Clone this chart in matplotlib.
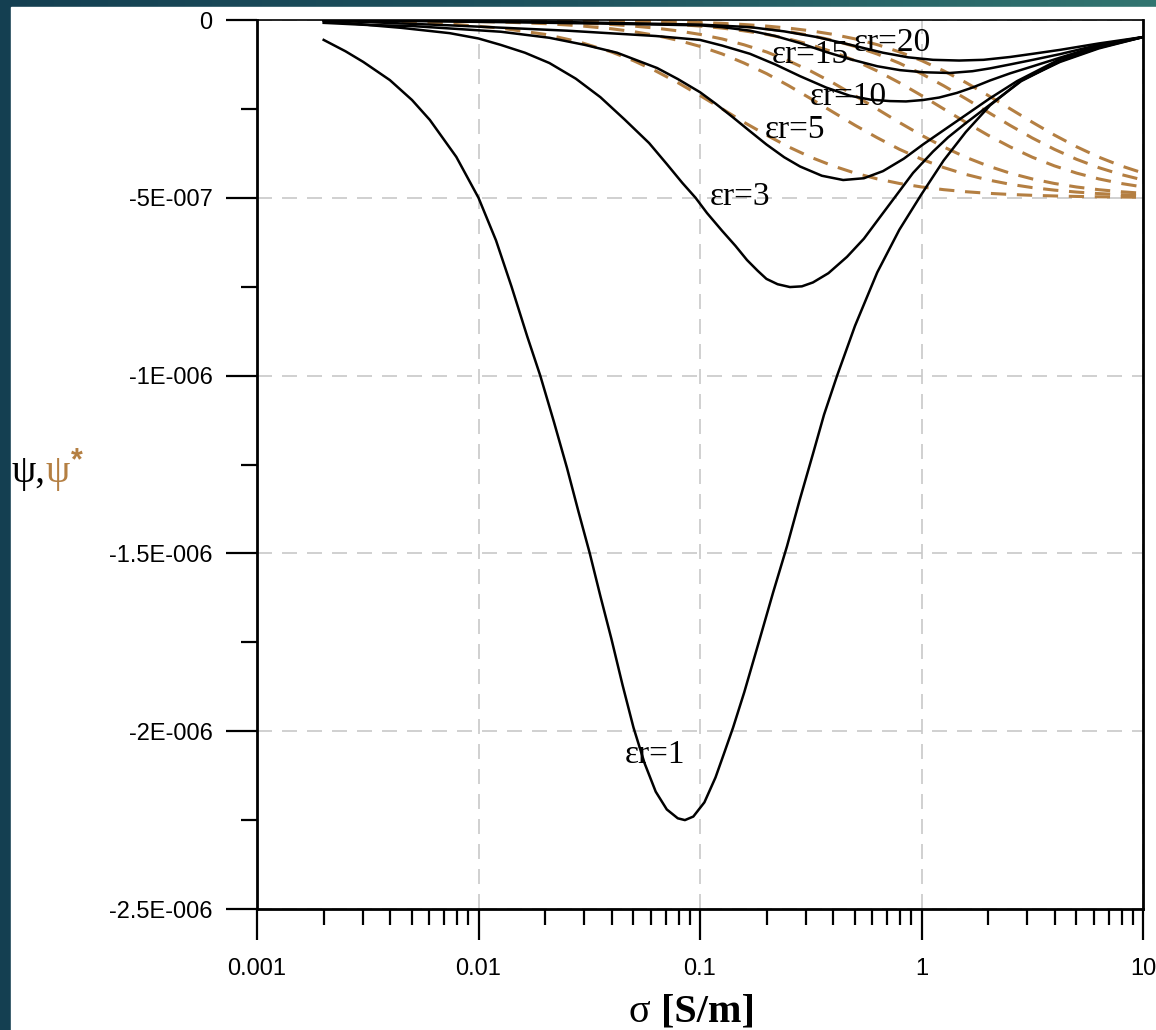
import numpy as np
import matplotlib

matplotlib.use("Agg")
import matplotlib.pyplot as plt
from matplotlib.patches import Rectangle
from matplotlib.ticker import FixedLocator, LogLocator, NullFormatter

W, H = 1156, 1030
INK = "#000000"
BROWN = "#b47f42"
GRID = "#c8c8c8"
SCALE = 1e-7  # all curve values below are in units of 1e-7

# psi (solid black), one curve per relative permittivity
SIG_1 = [0.002, 0.00251, 0.00302, 0.00398, 0.00501, 0.00603, 0.00794, 0.01, 0.012,
         0.0141, 0.0166, 0.019, 0.0219, 0.0251, 0.0282, 0.0318, 0.0355, 0.0398,
         0.0447, 0.0501, 0.0562, 0.0631, 0.0708, 0.0794, 0.0855, 0.0933, 0.1047,
         0.1175, 0.1288, 0.141, 0.1585, 0.1862, 0.2138, 0.247, 0.2818, 0.3236,
         0.363, 0.416, 0.501, 0.631, 0.794, 1.0, 1.259, 1.585, 2.04, 2.818, 4.22,
         6.31, 10]
PSI_1 = [-0.56, -0.88, -1.18, -1.69, -2.25, -2.81, -3.85, -5.0, -6.2,
         -7.5, -8.9, -10.0, -11.3, -12.6, -13.8, -15.0, -16.2, -17.4,
         -18.7, -19.9, -20.9, -21.7, -22.2, -22.45, -22.5, -22.4, -22.0,
         -21.3, -20.6, -19.9, -18.9, -17.4, -16.1, -14.8, -13.5, -12.2,
         -11.1, -10.0, -8.6, -7.1, -5.9, -4.9, -3.95, -3.15, -2.4, -1.7, -1.18,
         -0.8, -0.48]

SIG_3 = [0.002, 0.00316, 0.00447, 0.00741, 0.01, 0.0126, 0.0162, 0.0209, 0.0275,
         0.0355, 0.0457, 0.0589, 0.0708, 0.0832, 0.0955, 0.1076, 0.1259, 0.1445,
         0.163, 0.182, 0.1995, 0.224, 0.2547, 0.2884, 0.3236, 0.38, 0.461, 0.5495,
         0.65, 0.776, 0.916, 1.127, 1.318, 1.585, 2.04, 2.818, 4.22, 6.31, 10]
PSI_3 = [-0.08, -0.14, -0.22, -0.37, -0.52, -0.70, -0.92, -1.21, -1.65,
         -2.17, -2.8, -3.46, -4.05, -4.58, -5.0, -5.43, -5.93, -6.35,
         -6.75, -7.05, -7.28, -7.43, -7.51, -7.49, -7.38, -7.12, -6.66, -6.15,
         -5.54, -4.9, -4.3, -3.7, -3.3, -2.9, -2.38, -1.72, -1.16, -0.78, -0.48]

SIG_5 = [0.002, 0.00324, 0.00501, 0.0126, 0.0209, 0.0302, 0.0422, 0.064, 0.0794,
         0.1, 0.1175, 0.141, 0.166, 0.1995, 0.24, 0.283, 0.355, 0.443, 0.5495,
         0.67, 0.832, 1.016, 1.259, 1.603, 2.04, 2.698, 4.22, 6.31, 10]
PSI_5 = [-0.03, -0.14, -0.17, -0.33, -0.5, -0.7, -0.92, -1.35, -1.66,
         -2.03, -2.35, -2.74, -3.1, -3.5, -3.86, -4.12, -4.38, -4.5, -4.45,
         -4.25, -3.9, -3.5, -3.1, -2.65, -2.2, -1.72, -1.1, -0.75, -0.48]

SIG_10 = [0.002, 0.00741, 0.0251, 0.0631, 0.1, 0.126, 0.168, 0.2188, 0.283, 0.3715,
          0.475, 0.589, 0.72, 0.851, 1.016, 1.202, 1.445, 1.698, 2.04, 2.512, 3.184,
          4.22, 6.31, 10]
PSI_10 = [-0.01, -0.15, -0.3, -0.45, -0.56, -0.72, -0.95, -1.25, -1.58, -1.9,
          -2.13, -2.24, -2.28, -2.29, -2.25, -2.18, -2.05, -1.9, -1.7, -1.5, -1.3,
          -1.06, -0.72, -0.48]

SIG_15 = [0.002, 0.0126, 0.0355, 0.1, 0.126, 0.168, 0.2188, 0.283, 0.3715, 0.475,
          0.631, 0.8, 1.023, 1.345, 1.698, 2.04, 2.512, 3.184, 4.22, 6.31, 10]
PSI_15 = [0.0, -0.06, -0.1, -0.15, -0.2, -0.3, -0.45, -0.65, -0.9, -1.1,
          -1.3, -1.41, -1.47, -1.49, -1.44, -1.36, -1.25, -1.12, -0.96, -0.7, -0.48]

SIG_20 = [0.002, 0.0209, 0.1, 0.168, 0.24, 0.337, 0.479, 0.67, 0.871, 1.127, 1.479,
          1.905, 2.512, 3.184, 4.22, 6.31, 10]
PSI_20 = [0.0, -0.05, -0.13, -0.2, -0.32, -0.48, -0.7, -0.92, -1.05, -1.12, -1.14,
          -1.12, -1.04, -0.95, -0.84, -0.66, -0.48]

# psi* (dashed brown), read on one shared sigma grid
SIG_D = [0.002, 0.00316, 0.00501, 0.00794, 0.0126, 0.02, 0.0282, 0.0398, 0.0501,
         0.0631, 0.0794, 0.1, 0.126, 0.158, 0.2, 0.251, 0.316, 0.398, 0.501, 0.631,
         0.794, 1.0, 1.259, 1.585, 1.995, 2.512, 3.162, 3.981, 5.012, 6.31, 7.943, 10]
PSI_D1 = [-0.021, -0.038, -0.07, -0.127, -0.228, -0.404, -0.609, -0.898, -1.144,
          -1.433, -1.762, -2.123, -2.5, -2.877, -3.238, -3.567, -3.858, -4.102,
          -4.305, -4.468, -4.596, -4.695, -4.771, -4.829, -4.873, -4.906, -4.93,
          -4.948, -4.962, -4.972, -4.979, -4.985]
PSI_D3 = [-0.005, -0.009, -0.017, -0.031, -0.056, -0.102, -0.159, -0.246, -0.327,
          -0.433, -0.57, -0.742, -0.955, -1.21, -1.509, -1.845, -2.21, -2.587,
          -2.96, -3.31, -3.634, -3.914, -4.149, -4.342, -4.497, -4.619, -4.713,
          -4.784, -4.839, -4.881, -4.912, -4.934]
PSI_D5 = [-0.003, -0.005, -0.009, -0.016, -0.028, -0.052, -0.082, -0.127, -0.171,
          -0.228, -0.305, -0.405, -0.533, -0.697, -0.9, -1.147, -1.436, -1.766,
          -2.127, -2.504, -2.881, -3.241, -3.57, -3.86, -4.104, -4.307, -4.469,
          -4.597, -4.696, -4.772, -4.829, -4.873]
PSI_D10 = [-0.001, -0.002, -0.003, -0.006, -0.011, -0.021, -0.033, -0.052, -0.07,
           -0.094, -0.127, -0.171, -0.228, -0.305, -0.404, -0.532, -0.695, -0.898,
           -1.144, -1.433, -1.762, -2.123, -2.5, -2.877, -3.238, -3.567, -3.858,
           -4.102, -4.305, -4.468, -4.596, -4.695]
PSI_D15 = [-0.001, -0.001, -0.002, -0.004, -0.007, -0.012, -0.02, -0.031, -0.041,
           -0.056, -0.076, -0.102, -0.137, -0.184, -0.246, -0.328, -0.435, -0.571,
           -0.744, -0.957, -1.213, -1.512, -1.849, -2.213, -2.59, -2.964, -3.317,
           -3.637, -3.917, -4.151, -4.344, -4.499]
PSI_D20 = [0.0, -0.001, -0.001, -0.003, -0.005, -0.009, -0.013, -0.021, -0.028,
           -0.038, -0.052, -0.07, -0.094, -0.127, -0.171, -0.228, -0.304, -0.403,
           -0.531, -0.693, -0.896, -1.141, -1.43, -1.758, -2.119, -2.496, -2.873,
           -3.235, -3.564, -3.855, -4.1, -4.303]

X_TICKS = [0.001, 0.01, 0.1, 1, 10]
X_TICK_LABELS = ["0.001", "0.01", "0.1", "1", "10"]
Y_TICKS = [0, -5e-7, -1e-6, -1.5e-6, -2e-6, -2.5e-6]
Y_TICK_LABELS = ["0", "-5E-007", "-1E-006", "-1.5E-006", "-2E-006", "-2.5E-006"]
Y_MINOR = [-2.5e-7, -7.5e-7, -1.25e-6, -1.75e-6, -2.25e-6]

# curve labels: (text, sigma, psi in 1e-7)
LABELS = [("εr=1", 0.0626, -20.67), ("εr=3", 0.152, -4.98), ("εr=5", 0.268, -3.09),
          ("εr=10", 0.466, -2.17), ("εr=15", 0.314, -0.98), ("εr=20", 0.736, -0.65)]


def px(x, y):
    """pixel (from top-left) -> figure fraction"""
    return x / W, 1 - y / H


fig = plt.figure(figsize=(W / 100, H / 100), dpi=100)

# slide background: teal gradient framing a white panel
bg = fig.add_axes([0, 0, 1, 1])
grad = np.linspace(0, 1, 256)[None, :]
cmap = matplotlib.colors.LinearSegmentedColormap.from_list(
    "slide", ["#143f51", "#1f5560", "#327570"])
bg.imshow(grad, aspect="auto", cmap=cmap, extent=[0, 1, 0, 1])
bg.add_patch(Rectangle(px(11, 1030), 1, 1 - 7 / H, color="white", transform=bg.transAxes))
bg.set_xlim(0, 1)
bg.set_ylim(0, 1)
bg.axis("off")

l, b = px(257, 909)
ax = fig.add_axes([l, b, (1143 - 257) / W, (909 - 20) / H])
ax.set_facecolor("white")
ax.set_xscale("log")

solid = [(SIG_1, PSI_1), (SIG_3, PSI_3), (SIG_5, PSI_5),
         (SIG_10, PSI_10), (SIG_15, PSI_15), (SIG_20, PSI_20)]
for s, p in solid:
    ax.plot(s, np.array(p) * SCALE, color=INK, linewidth=1.8, zorder=3,
            solid_joinstyle="round")

for p in [PSI_D1, PSI_D3, PSI_D5, PSI_D10, PSI_D15, PSI_D20]:
    ax.plot(SIG_D, np.array(p) * SCALE, color=BROWN, linewidth=2.2,
            linestyle=(0, (5, 3.5)), zorder=2)

for text, s, p in LABELS:
    ax.text(s, p * SCALE, text, ha="center", va="center", fontsize=24,
            family="Liberation Serif", color=INK, zorder=4)

ax.set_xlim(1e-3, 10)
ax.set_ylim(-2.5e-6, 0)
ax.xaxis.set_major_locator(FixedLocator(X_TICKS))
ax.set_xticklabels(X_TICK_LABELS)
ax.xaxis.set_minor_locator(LogLocator(base=10, subs=np.arange(2, 10), numticks=20))
ax.xaxis.set_minor_formatter(NullFormatter())
ax.yaxis.set_major_locator(FixedLocator(Y_TICKS))
ax.set_yticklabels(Y_TICK_LABELS)
ax.yaxis.set_minor_locator(FixedLocator(Y_MINOR))

ax.tick_params(which="major", direction="out", length=22, width=1.6, labelsize=17,
               colors=INK)
ax.tick_params(which="minor", direction="out", length=11.5, width=1.6)
ax.tick_params(axis="y", which="major", pad=10)
ax.tick_params(axis="x", which="major", pad=13)
for lab in ax.get_xticklabels() + ax.get_yticklabels():
    lab.set_family("Liberation Sans")

ax.grid(which="major", color=GRID, linestyle=(0, (9, 6)), linewidth=1.2, zorder=0)
for side in ["left", "bottom", "right"]:
    ax.spines[side].set_linewidth(2.0)
    ax.spines[side].set_color(INK)
ax.spines["top"].set_linewidth(1.2)

# axis titles built from pieces (mixed colour / weight)
r = fig.canvas.get_renderer()
t1 = fig.text(*px(12, 473), "ψ,", fontsize=28, family="Liberation Serif",
              color=INK, va="center", ha="left")
e1 = t1.get_window_extent(r)
t2 = fig.text(e1.x1 / W, 1 - 473 / H, "ψ", fontsize=28, family="Liberation Serif",
              color=BROWN, va="center", ha="left")
e2 = t2.get_window_extent(r)
fig.text(e2.x1 / W + 0.001, 1 - 461 / H, "*", fontsize=22, family="Liberation Sans",
         fontweight="bold", color=BROWN, va="center", ha="left")

t3 = fig.text(*px(629, 1012), "σ ", fontsize=29, family="Liberation Serif",
              color=INK, va="center", ha="left")
e3 = t3.get_window_extent(r)
fig.text(e3.x1 / W, 1 - 1012 / H, "[S/m]", fontsize=29, family="Liberation Serif",
         fontweight="bold", color=INK, va="center", ha="left")

fig.savefig("out.png", dpi=100, facecolor="white")
